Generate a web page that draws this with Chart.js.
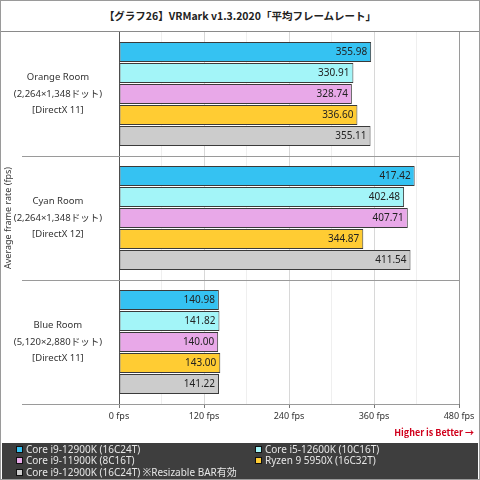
<!DOCTYPE html>
<html>
<head>
<meta charset="utf-8">
<script src="https://cdn.jsdelivr.net/npm/chart.js@4.4.1/dist/chart.umd.min.js"></script>
<style>
html, body { margin: 0; padding: 0; background: #fff; }
#frame { position: relative; width: 480px; height: 480px; box-sizing: border-box; border: 1px solid #9a9a9a; overflow: hidden; }
#title { position: absolute; left: 0; top: 0; width: 478px; height: 30px; border-bottom: 1px solid #8a8a8a;
  text-align: center; font: bold 10.5px 'Noto Sans CJK JP', sans-serif; line-height: 30px; color: #222; }
#plot { position: absolute; left: 0; top: 31px; width: 478px; height: 411px; }
#better { position: absolute; right: 5px; top: 426px; font: bold 9px 'Noto Sans CJK JP', sans-serif; color: #d0001c; line-height: 12px; }
#legend { position: absolute; left: 1px; right: 1px; top: 442px; bottom: 0; background: #3e3e3e; }
.item { position: absolute; font: 10px 'Noto Sans', 'Noto Sans CJK JP', sans-serif; color: #e6e6e6; line-height: 11px; white-space: nowrap; }
.item i { display: inline-block; width: 5px; height: 5px; border: 1px solid #111; margin-right: 3px; vertical-align: 0px; }
</style>
</head>
<body>
<div id="frame">
  <div id="title">【グラフ26】VRMark v1.3.2020「平均フレームレート」</div>
  <div id="plot"><canvas id="chart"></canvas></div>
  <div id="better">Higher is Better →</div>
  <div id="legend"></div>
</div>
<script>
/* --- Data ---------------------------------------------------------------- */
const rooms = [
  ['Orange Room', '(2,264×1,348ドット)', '[DirectX 11]'],
  ['Cyan Room', '(2,264×1,348ドット)', '[DirectX 12]'],
  ['Blue Room', '(5,120×2,880ドット)', '[DirectX 11]']
];
const seriesNames = [
  'Core i9-12900K (16C24T)',
  'Core i5-12600K (10C16T)',
  'Core i9-11900K (8C16T)',
  'Ryzen 9 5950X (16C32T)',
  'Core i9-12900K (16C24T) ※Resizable BAR有効'
];
const seriesColors = ['#35c2f2', '#a3f5f8', '#e8a8e8', '#ffcc33', '#cccccc'];
const i9_12900k       = [355.98, 417.42, 140.98];
const i5_12600k       = [330.91, 402.48, 141.82];
const i9_11900k       = [328.74, 407.71, 140.00];
const r9_5950x        = [336.60, 344.87, 143.00];
const i9_12900k_rebar = [355.11, 411.54, 141.22];
const seriesData = [i9_12900k, i5_12600k, i9_11900k, r9_5950x, i9_12900k_rebar];
const xTicks = [0, 120, 240, 360, 480];

/* --- Plugins ------------------------------------------------------------- */
const roomLines = {
  id: 'roomLines',
  beforeDatasetsDraw(chart) {
    const y = chart.scales.y, a = chart.chartArea, c = chart.ctx;
    c.save();
    c.strokeStyle = '#9a9a9a'; c.lineWidth = 1;
    for (let i = 0; i < rooms.length; i++) {
      const py = Math.round(y.getPixelForValue(i + 0.5)) + 0.5;
      c.beginPath(); c.moveTo(21, py); c.lineTo(a.right, py); c.stroke();
    }
    c.restore();
  }
};

const valueLabels = {
  id: 'valueLabels',
  afterDatasetsDraw(chart) {
    const c = chart.ctx;
    c.save();
    c.font = "10px 'Noto Sans'";
    c.fillStyle = '#222';
    c.textAlign = 'right'; c.textBaseline = 'middle';
    chart.data.datasets.forEach((ds, d) => {
      chart.getDatasetMeta(d).data.forEach((bar, i) => {
        c.fillText(ds.data[i].toFixed(2), bar.x - 4, bar.y + 0.5);
      });
    });
    c.restore();
  }
};

/* --- Chart --------------------------------------------------------------- */
Chart.defaults.font.family = "'Noto Sans', 'Noto Sans CJK JP', sans-serif";
Chart.defaults.color = '#333';

new Chart(document.getElementById('chart'), {
  type: 'bar',
  data: {
    labels: rooms,
    datasets: seriesNames.map((n, i) => ({
      label: n, data: seriesData[i], backgroundColor: seriesColors[i],
      borderColor: '#3a3a3a', borderWidth: 1, borderSkipped: false,
      barPercentage: 0.95, categoryPercentage: 0.847
    }))
  },
  options: {
    indexAxis: 'y',
    responsive: true, maintainAspectRatio: false, animation: false,
    layout: { padding: { right: 20 } },
    plugins: { legend: { display: false }, tooltip: { enabled: false } },
    scales: {
      x: {
        min: 0, max: 480,
        ticks: {
          stepSize: 60, autoSkip: false, maxRotation: 0, padding: 3,
          font: { size: 9 },
          callback: v => xTicks.includes(v) ? v + ' fps' : ''
        },
        grid: {
          tickLength: 4,
          color: c => c.tick.value === 480 ? '#9a9a9a' : (c.tick.value % 120 === 0 ? '#d8d8d8' : '#efefef'),
          tickColor: c => c.tick.value % 120 === 0 ? '#777' : 'rgba(0,0,0,0)'
        },
        border: { display: false },
        afterFit: s => { s.height = 39; s.paddingLeft = 0; s.paddingRight = 0; }
      },
      y: {
        grid: { display: false },
        border: { display: true, color: '#555' },
        ticks: { crossAlign: 'center', padding: 9, font: { size: 9.5, lineHeight: 1.75 } },
        title: { display: true, text: 'Average frame rate (fps)', font: { size: 9 }, padding: { top: 2, bottom: 0 } },
        afterFit: s => { s.width = 118; s.paddingTop = 0; s.paddingBottom = 0; }
      }
    }
  },
  plugins: [roomLines, valueLabels]
});

/* --- Legend -------------------------------------------------------------- */
const legend = document.getElementById('legend');
seriesNames.forEach((n, i) => {
  const d = document.createElement('div');
  d.className = 'item';
  d.style.left = (i % 2 ? 253 : 14) + 'px';
  d.style.top = (Math.floor(i / 2) * 11.5 + 0.5) + 'px';
  d.innerHTML = '<i style="background:' + seriesColors[i] + '"></i>';
  d.appendChild(document.createTextNode(n));
  legend.appendChild(d);
});
</script>
</body>
</html>
